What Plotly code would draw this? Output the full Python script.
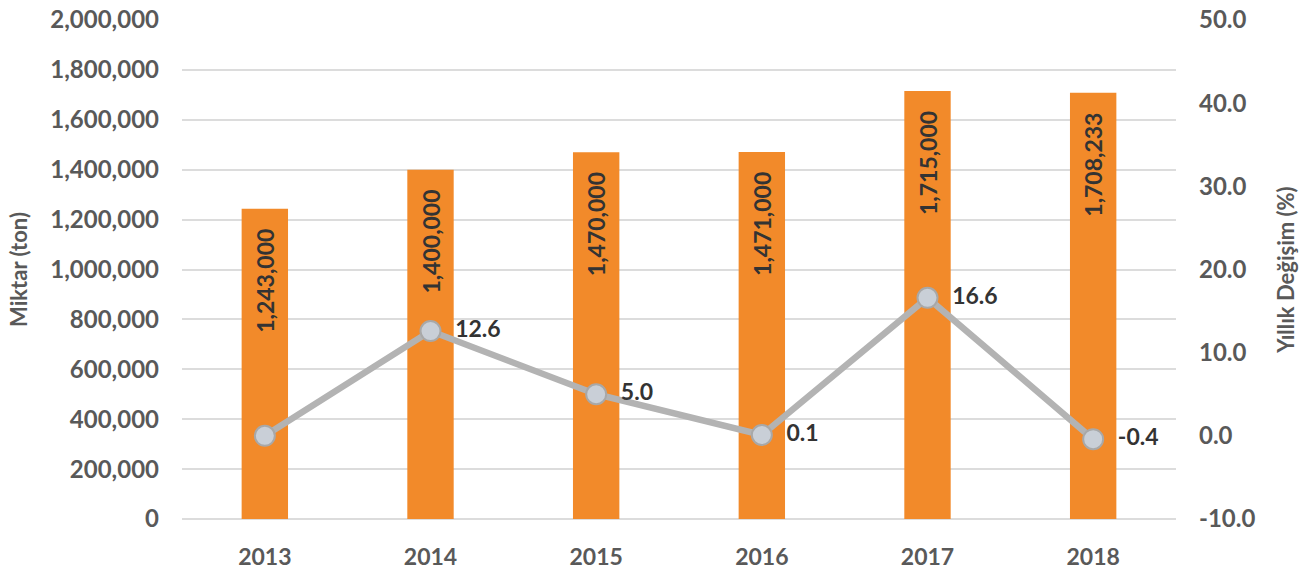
import plotly.graph_objects as go

years = ["2013", "2014", "2015", "2016", "2017", "2018"]
amounts = [1243000, 1400000, 1470000, 1471000, 1715000, 1708233]
change = [0.0, 12.6, 5.0, 0.1, 16.6, -0.4]
change_labels = ["", "12.6", "5.0", "0.1", "16.6", "-0.4"]
right_ticks = [-10, 0, 10, 20, 30, 40, 50]
right_tick_labels = ["-10.0", "0.0", "10.0", "20.0", "30.0", "40.0", "50.0"]

FONT = "Lato"
GRAY = "#595959"
DARK = "#333333"
NB = "\u00a0"

fig = go.Figure()
fig.add_trace(go.Bar(
    x=years, y=amounts,
    marker=dict(color="#F28A2A", line=dict(width=0)),
    text=[f"{v:,}" + NB * 3 for v in amounts],
    textposition="inside", insidetextanchor="end", textangle=-90,
    textfont=dict(family=FONT, size=23, color=DARK, weight="bold"),
    constraintext="none", cliponaxis=False,
    showlegend=False,
))
fig.add_trace(go.Scatter(
    x=years, y=change, yaxis="y2", mode="lines+markers+text",
    line=dict(color="#B3B3B3", width=6.5),
    marker=dict(size=20, color="#C9CFD7", line=dict(color="#A8A8A8", width=2)),
    text=[NB * 2 + t if t else "" for t in change_labels], textposition="middle right",
    textfont=dict(family=FONT, size=23, color=DARK, weight="bold"),
    showlegend=False, cliponaxis=False,
))

fig.update_layout(
    width=1312, height=571,
    margin=dict(l=182, r=136, t=20, b=52, autoexpand=False),
    paper_bgcolor="white", plot_bgcolor="white",
    bargap=0.72,
    font=dict(family=FONT, size=23, color=GRAY),
    xaxis=dict(
        type="category", showgrid=False, showline=False, ticks="",
        tickfont=dict(family=FONT, size=23, color=GRAY, weight="bold"),
        ticklabelstandoff=22, automargin=False,
    ),
    yaxis=dict(
        range=[0, 2000000], dtick=200000, tickformat=",",
        showgrid=True, gridcolor="#DCDCDC", gridwidth=2,
        zeroline=True, zerolinecolor="#DCDCDC", zerolinewidth=2,
        tickfont=dict(family=FONT, size=24, color=GRAY, weight="bold"),
        ticklabelstandoff=22, automargin=False,
        title=dict(text="Miktar (ton)", standoff=16,
                   font=dict(family=FONT, size=22, color=GRAY, weight="bold")),
    ),
    yaxis2=dict(
        overlaying="y", side="right", range=[-10, 50],
        tickmode="array", tickvals=right_ticks, ticktext=right_tick_labels,
        showgrid=False, zeroline=False,
        tickfont=dict(family=FONT, size=24, color=GRAY, weight="bold"),
        ticklabelstandoff=22, automargin=False,
        title=dict(text="Yıllık Değişim (%)", standoff=24,
                   font=dict(family=FONT, size=22, color=GRAY, weight="bold")),
    ),
)

fig.write_html("out.html")
